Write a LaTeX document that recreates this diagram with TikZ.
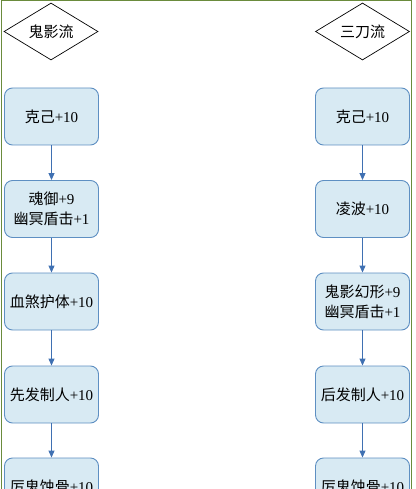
\documentclass[tikz,border=0pt]{standalone}
\usepackage{fontspec}
\setmainfont{Liberation Serif}
\newfontfamily\cjk{Noto Sans CJK SC}
\usetikzlibrary{shapes.geometric,arrows.meta}

\definecolor{boxfill}{HTML}{D8EAF3}
\definecolor{boxline}{HTML}{5E8FC2}
\definecolor{arrowblue}{HTML}{3F70B2}
\definecolor{framegreen}{HTML}{6A8B3C}

\tikzset{
  flowbox/.style={draw=boxline,fill=boxfill,rounded corners=8pt,line width=0.9pt,
    minimum width=94pt,minimum height=57pt,inner sep=0pt,align=center,
    font=\fontsize{15}{20}\selectfont},
  flowhead/.style={draw=black,diamond,aspect=1.65,line width=0.7pt,
    minimum width=94pt,minimum height=57pt,inner sep=0pt,
    font=\fontsize{15}{20}\selectfont},
  flowarrow/.style={draw=arrowblue,line width=0.9pt,-{Triangle[width=6pt,length=7pt]}}
}

\begin{document}
\begin{tikzpicture}[x=1pt,y=-1pt]
\useasboundingbox (0,0) rectangle (415,489);
\draw[framegreen,line width=1pt] (1,489)--(1,1)--(411,1)--(411,489);
% left column
\node[flowhead] (gy) at (51,31.5) {\cjk 鬼影流};
\node[flowbox] (gy1) at (51.5,116.5) {{\cjk 克己}+10};
\node[flowbox] (gy2) at (51.5,209) {{\cjk 魂御}+9\\{\cjk 幽冥盾击}+1};
\node[flowbox] (gy3) at (51.5,301.5) {{\cjk 血煞护体}+10};
\node[flowbox] (gy4) at (51.5,394.5) {{\cjk 先发制人}+10};
\node[flowbox] (gy5) at (51.5,486.5) {{\cjk 厉鬼蚀骨}+10};
\draw[flowarrow] (gy1)--(gy2);
\draw[flowarrow] (gy2)--(gy3);
\draw[flowarrow] (gy3)--(gy4);
\draw[flowarrow] (gy4)--(gy5);
% right column
\node[flowhead] (sd) at (362.5,31.5) {\cjk 三刀流};
\node[flowbox] (sd1) at (362.5,116.5) {{\cjk 克己}+10};
\node[flowbox] (sd2) at (362.5,209) {{\cjk 凌波}+10};
\node[flowbox] (sd3) at (362.5,301.5) {{\cjk 鬼影幻形}+9\\{\cjk 幽冥盾击}+1};
\node[flowbox] (sd4) at (362.5,394.5) {{\cjk 后发制人}+10};
\node[flowbox] (sd5) at (362.5,486.5) {{\cjk 厉鬼蚀骨}+10};
\draw[flowarrow] (sd1)--(sd2);
\draw[flowarrow] (sd2)--(sd3);
\draw[flowarrow] (sd3)--(sd4);
\draw[flowarrow] (sd4)--(sd5);
\end{tikzpicture}
\end{document}
